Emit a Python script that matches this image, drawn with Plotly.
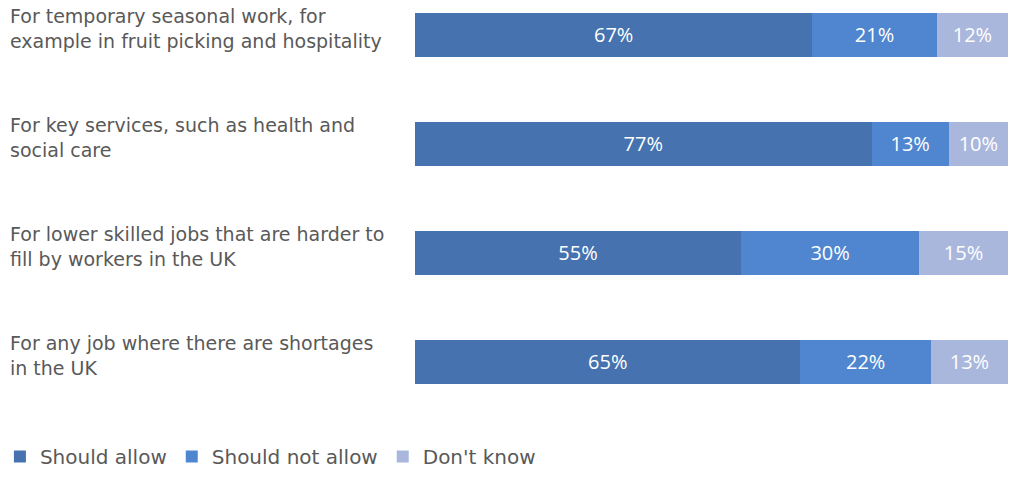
import plotly.graph_objects as go

categories = [
    "For temporary seasonal work, for<br>example in fruit picking and hospitality",
    "For key services, such as health and<br>social care",
    "For lower skilled jobs that are harder to<br>fill by workers in the UK",
    "For any job where there are shortages<br>in the UK",
]
series_names = ["Should allow", "Should not allow", "Don't know"]
should_allow = [67, 77, 55, 65]
should_not_allow = [21, 13, 30, 22]
dont_know = [12, 10, 15, 13]
colors = ["#4672B0", "#4F86CF", "#AAB7DD"]

fig = go.Figure()
for name, vals, col in zip(series_names, [should_allow, should_not_allow, dont_know], colors):
    fig.add_trace(go.Bar(
        y=list(range(len(categories))), x=vals, name=name, orientation="h",
        marker=dict(color=col, line=dict(width=0)),
        text=[f"{v}%" for v in vals], textposition="inside", insidetextanchor="middle",
        textfont=dict(color="white", size=20, family="Open Sans"),
        width=0.40, hoverinfo="skip",
    ))

for i, c in enumerate(categories):
    fig.add_annotation(
        x=0, xref="paper", xshift=-407, y=i, yref="y", yshift=6,
        text=c, showarrow=False, xanchor="left", yanchor="middle", align="left",
        font=dict(size=19, color="#595959", family="DejaVu Sans"),
    )

fig.update_layout(
    width=1010, height=477, barmode="stack",
    margin=dict(l=415, r=2, t=0, b=77, autoexpand=False),
    plot_bgcolor="white", paper_bgcolor="white",
    xaxis=dict(range=[0, 100], visible=False),
    yaxis=dict(range=[3.349, -0.321], visible=False),
    showlegend=True,
    legend=dict(orientation="h", x=-0.7, xanchor="left", y=-0.19, yanchor="bottom",
                font=dict(size=20, color="#595959", family="DejaVu Sans"),
                itemwidth=30, traceorder="normal"),
    uniformtext=dict(minsize=10, mode="show"),
)
fig.write_html("out.html")
